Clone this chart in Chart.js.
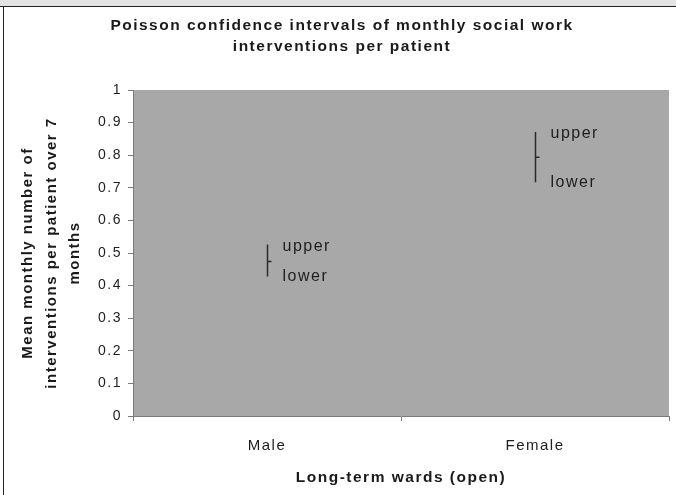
<!DOCTYPE html>
<html>
<head>
<meta charset="utf-8">
<title>Poisson confidence intervals</title>
<script src="https://cdn.jsdelivr.net/npm/chart.js@4/dist/chart.umd.min.js"></script>
<style>
  html, body { margin: 0; padding: 0; background: #fff; }
  #wrap { position: relative; width: 676px; height: 495px; overflow: hidden; }
  #topband { position: absolute; left: 0; top: 0; width: 676px; height: 6px; background: #e3e3e3; border-bottom: 1.5px solid #222; z-index: 2; }
  #leftline { position: absolute; left: 3px; top: 6px; width: 1px; height: 489px; background: #222; z-index: 2; }
  canvas { position: absolute; left: 0; top: 0; }
</style>
</head>
<body>
<div id="wrap">
  <div id="topband"></div>
  <div id="leftline"></div>
  <canvas id="ci-chart" width="676" height="495"></canvas>
</div>
<script>
// Chart data
const categories = ['Male', 'Female'];
const upperValues = [0.526, 0.871];
const lowerValues = [0.428, 0.717];
const meanValues = [0.474, 0.794];
const boundLabels = ['upper', 'lower'];

const chartTitle = ['Poisson confidence intervals of monthly social work', 'interventions per patient'];
const yTitle = ['Mean monthly number of', 'interventions per patient over 7', 'months'];
const xTitle = 'Long-term wards (open)';

const FONT = '"Liberation Sans", Arial, sans-serif';
// the reference text is drawn wide, so spread the letters a little
const SPACING = '1.5px';

// Grey plot background (and the letter spacing for all text)
const plotBackground = {
  id: 'plotBackground',
  beforeDraw(chart) {
    const { ctx, chartArea: a } = chart;
    ctx.letterSpacing = SPACING;
    ctx.save();
    ctx.fillStyle = '#a8a8a8';
    ctx.fillRect(a.left, a.top, a.right - a.left, a.bottom - a.top);
    ctx.restore();
  }
};

// Vertical interval line with a small mean tick, plus the upper/lower labels
const intervalBars = {
  id: 'intervalBars',
  afterDatasetsDraw(chart) {
    const { ctx, scales: { x, y } } = chart;
    ctx.save();
    ctx.letterSpacing = SPACING;
    ctx.strokeStyle = '#2a2a2a';
    ctx.lineWidth = 1.5;
    ctx.font = '16px ' + FONT;
    ctx.fillStyle = '#1e1e1e';
    ctx.textBaseline = 'middle';
    ctx.textAlign = 'left';
    categories.forEach((cat, i) => {
      const px = Math.round(x.getPixelForValue(i)) + 0.5;
      const yUp = y.getPixelForValue(upperValues[i]);
      const yLo = y.getPixelForValue(lowerValues[i]);
      const yMean = y.getPixelForValue(meanValues[i]);
      ctx.beginPath();
      ctx.moveTo(px, yUp);
      ctx.lineTo(px, yLo);
      ctx.moveTo(px, yMean);
      ctx.lineTo(px + 4, yMean);
      ctx.stroke();
      ctx.fillText(boundLabels[0], px + 15, yUp + 2);
      ctx.fillText(boundLabels[1], px + 15, yLo);
    });
    ctx.restore();
  }
};

function createIntervalChart() {
  const canvas = document.getElementById('ci-chart');
  if (!canvas) return;
  const ctx = canvas.getContext('2d');
  new Chart(ctx, {
    type: 'line',
    data: {
      labels: categories,
      datasets: [
        { label: 'mean', data: meanValues, showLine: false, pointRadius: 0 },
        { label: 'upper', data: upperValues, showLine: false, pointRadius: 0 },
        { label: 'lower', data: lowerValues, showLine: false, pointRadius: 0 }
      ]
    },
    options: {
      responsive: false,
      animation: false,
      events: [],
      // left padding only nudges the chart title; the y axis box makes up the rest
      layout: { padding: { top: 0, right: 7, bottom: 0, left: 15 } },
      plugins: {
        legend: { display: false },
        tooltip: { enabled: false },
        title: {
          display: true,
          text: chartTitle,
          color: '#1a1a1a',
          font: { family: FONT, size: 15.5, weight: 'bold', lineHeight: 1.355 },
          padding: { top: 15.5, bottom: 32.5 }
        }
      },
      scales: {
        x: {
          type: 'category',
          offset: true,
          afterFit(scale) { scale.height = 79; },
          border: { display: true, color: '#7a7a7a', width: 1 },
          grid: { display: true, offset: true, drawOnChartArea: false, drawTicks: true, tickLength: 5, tickColor: '#7a7a7a' },
          ticks: { color: '#1e1e1e', font: { family: FONT, size: 15 }, padding: 16 },
          title: {
            display: true,
            text: xTitle,
            color: '#1a1a1a',
            font: { family: FONT, size: 15.5, weight: 'bold', lineHeight: 1.2 },
            padding: { top: 0, bottom: 8 }
          }
        },
        y: {
          min: 0,
          max: 1,
          afterFit(scale) { scale.width = 118; },
          border: { display: true, color: '#7a7a7a', width: 1 },
          grid: { display: true, drawOnChartArea: false, drawTicks: true, tickLength: 5, tickColor: '#7a7a7a' },
          ticks: {
            stepSize: 0.1,
            color: '#1e1e1e',
            font: { family: FONT, size: 14 },
            padding: 6,
            callback: v => String(Math.round(v * 10) / 10)
          },
          title: {
            display: true,
            text: yTitle,
            color: '#1a1a1a',
            font: { family: FONT, size: 15, weight: 'bold', lineHeight: 1.57 },
            padding: { top: 1.2, bottom: 0 }
          }
        }
      }
    },
    plugins: [plotBackground, intervalBars]
  });
}

createIntervalChart();
</script>
</body>
</html>
